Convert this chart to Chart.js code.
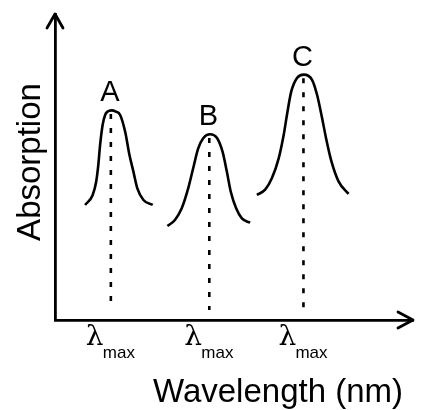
<!DOCTYPE html>
<html>
<head>
<meta charset="utf-8">
<script src="https://cdn.jsdelivr.net/npm/chart.js@4.4.1/dist/chart.umd.min.js"></script>
<style>
  html, body { margin: 0; padding: 0; background: #fff; }
  #wrap { width: 425px; height: 410px; position: relative; }
</style>
</head>
<body>
<div id="wrap"><canvas id="spectrum"></canvas></div>
<script>
// peaks
const peakLabels = ['A', 'B', 'C'];
const peakX = [15.6, 43.1, 69.4];
const peakY = [68.5, 60.7, 80.2];
const dashBottom = 3.3;

// curve A
const aWave = [8.4, 10.5, 11.5, 12.1, 12.6, 13.3, 14.0, 14.7, 15.8, 17.0, 18.2, 19.6, 20.8, 21.9, 23.0, 24.7, 27.3];
const aAbs  = [37.6, 40.8, 45.2, 50.7, 57.2, 63.7, 67.0, 68.1, 68.5, 68.1, 67.0, 61.5, 53.9, 48.5, 43.0, 39.2, 37.6];

// curve B
const bWave = [31.4, 33.5, 35.4, 37.2, 38.6, 40.0, 41.4, 43.3, 45.3, 46.8, 48.0, 49.1, 50.6, 52.2, 54.5];
const bAbs  = [30.7, 32.7, 36.5, 43.0, 49.6, 56.1, 59.4, 60.7, 59.4, 55.0, 48.5, 41.9, 36.5, 33.2, 31.8];

// curve C
const cWave = [56.4, 58.7, 60.6, 62.5, 63.9, 64.8, 66.0, 67.6, 69.5, 71.8, 73.2, 74.6, 75.7, 77.2, 79.2, 82.0];
const cAbs  = [40.9, 42.6, 46.4, 52.9, 60.6, 67.1, 74.7, 79.1, 80.2, 78.5, 73.6, 66.0, 59.5, 51.9, 45.3, 41.2];

const toPoints = (xs, ys) => xs.map((x, i) => ({ x: x, y: ys[i] }));

function curveSet(xs, ys) {
    return {
        data: toPoints(xs, ys),
        borderColor: '#000',
        borderWidth: 2.6,
        pointRadius: 0,
        cubicInterpolationMode: 'monotone',
        fill: false
    };
}

function dashSet(i) {
    return {
        data: [{ x: peakX[i], y: peakY[i] - 1.2 }, { x: peakX[i], y: dashBottom }],
        borderColor: '#000',
        borderWidth: 2.6,
        borderDash: [5, 9],
        pointRadius: 0,
        fill: false
    };
}

const decorations = {
    id: 'decorations',
    afterDraw(chart) {
        const ctx = chart.ctx;
        const xs = chart.scales.x;
        const ys = chart.scales.y;
        const area = chart.chartArea;
        ctx.save();
        ctx.strokeStyle = '#000';
        ctx.fillStyle = '#000';
        ctx.lineWidth = 2.8;
        ctx.lineCap = 'round';
        ctx.lineJoin = 'round';

        // arrow heads
        ctx.beginPath();
        ctx.moveTo(area.left - 8, area.top + 14);
        ctx.lineTo(area.left, area.top);
        ctx.lineTo(area.left + 8, area.top + 14);
        ctx.moveTo(area.right - 15, area.bottom - 8);
        ctx.lineTo(area.right, area.bottom);
        ctx.lineTo(area.right - 15, area.bottom + 8);
        ctx.stroke();

        // peak letters
        ctx.font = '29px "Liberation Sans", Arial, sans-serif';
        ctx.textAlign = 'center';
        ctx.textBaseline = 'alphabetic';
        peakLabels.forEach((lab, i) => {
            ctx.fillText(lab, xs.getPixelForValue(peakX[i]) - 1, ys.getPixelForValue(peakY[i]) - 9);
        });

        // lambda max labels
        peakX.forEach(v => {
            const px = xs.getPixelForValue(v);
            ctx.textAlign = 'left';
            ctx.font = '28px "DejaVu Serif", serif';
            ctx.fillText('λ', px - 25, area.bottom + 25);
            ctx.font = '17px "Liberation Sans", Arial, sans-serif';
            ctx.fillText('max', px - 8, area.bottom + 38);
        });

        // axis titles
        ctx.font = '33px "Liberation Sans", Arial, sans-serif';
        ctx.textAlign = 'right';
        ctx.fillText('Wavelength (nm)', area.right - 10, area.bottom + 82);

        ctx.translate(area.left - 15, (area.top + area.bottom) / 2 - 5);
        ctx.rotate(-Math.PI / 2);
        ctx.textAlign = 'center';
        ctx.fillText('Absorption', 0, 0);
        ctx.restore();
    }
};

new Chart(document.getElementById('spectrum'), {
    type: 'line',
    data: {
        datasets: [
            curveSet(aWave, aAbs),
            curveSet(bWave, bAbs),
            curveSet(cWave, cAbs),
            dashSet(0),
            dashSet(1),
            dashSet(2)
        ]
    },
    options: {
        responsive: true,
        maintainAspectRatio: false,
        animation: false,
        layout: { padding: { left: 47, right: 12, top: 14, bottom: 82 } },
        plugins: { legend: { display: false }, tooltip: { enabled: false } },
        scales: {
            x: {
                type: 'linear', min: 0, max: 100,
                ticks: { display: false },
                grid: { display: false },
                border: { display: true, color: '#000', width: 2.8 }
            },
            y: {
                type: 'linear', min: 0, max: 100,
                ticks: { display: false },
                grid: { display: false },
                border: { display: true, color: '#000', width: 2.8 }
            }
        }
    },
    plugins: [decorations]
});
</script>
</body>
</html>
